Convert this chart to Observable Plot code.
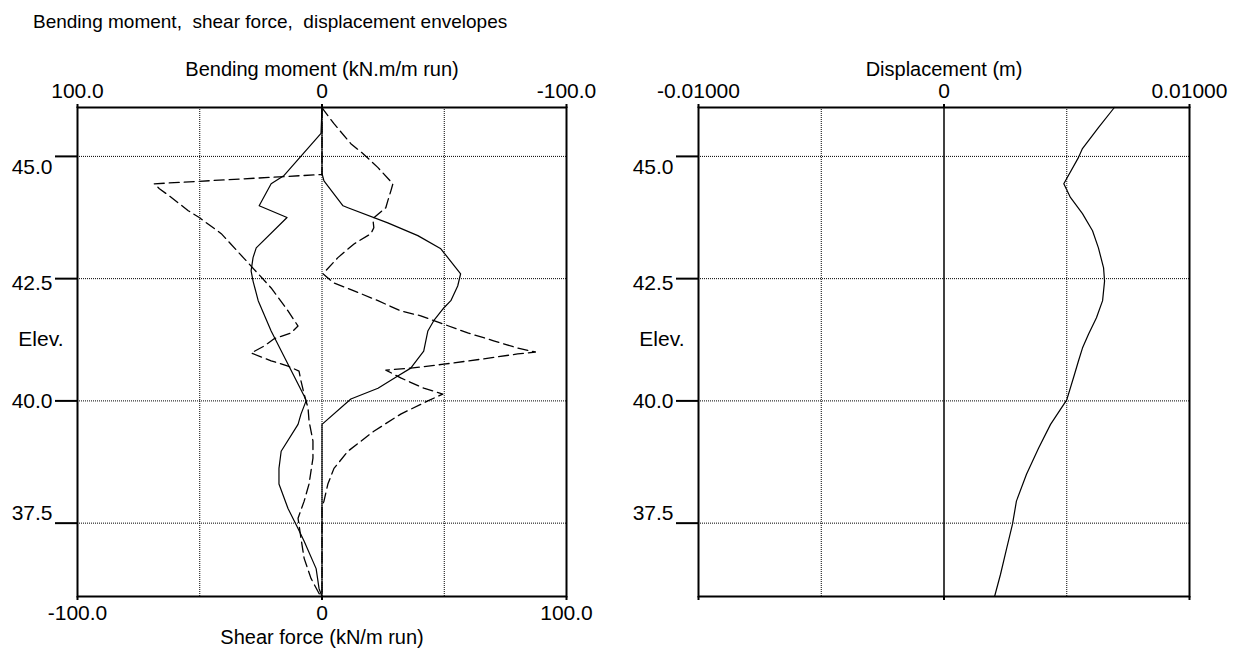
<!DOCTYPE html>
<html><head><meta charset="utf-8">
<script src="https://cdn.jsdelivr.net/npm/d3@7"></script>
<script src="https://cdn.jsdelivr.net/npm/@observablehq/plot@0.6"></script>
<style>
body{margin:0;background:#fff;}
#wrap{position:relative;width:1243px;height:655px;font-family:"Liberation Sans",Arial,sans-serif;color:#000;background:#fff;}
#title{position:absolute;left:33px;top:10px;font-size:19px;line-height:24px;white-space:pre;z-index:2;}
.panel{position:absolute;top:0;z-index:1;}
</style></head><body>
<div id="wrap"><div id="title">Bending moment,  shear force,  displacement envelopes</div></div>
<script>
// ---- data ----
const elevTicks = [45, 42.5, 40, 37.5];
const momentTicks = [100, 0, -100];
const shearTicks = [-100, 0, 100];
const dispTicks = [-0.01, 0, 0.01];

// bending moment envelope (solid), positive side
const bmPosElev = [46.0, 45.47, 44.61, 44.44, 43.99, 43.75, 43.13, 42.93, 42.66, 42.45, 42.05, 41.43, 40.75, 40.10, 40.00, 39.73, 39.52, 38.97, 38.62, 38.30, 37.80, 37.39, 37.13, 36.57, 36.16, 36.0];
const bmPos = [0, 0.4, 15.5, 20.8, 25.7, 14.3, 26.9, 28.2, 29.0, 28.2, 26.1, 20.8, 13.9, 7.3, 6.5, 8.6, 9.8, 16.7, 17.6, 17.6, 13.9, 9.8, 7.3, 2.4, 1.2, 0];
// bending moment envelope (solid), negative side
const bmNegElev = [46.0, 44.65, 44.50, 43.99, 43.95, 43.64, 43.38, 43.11, 42.60, 42.35, 42.05, 41.90, 41.64, 41.43, 41.02, 40.67, 40.51, 40.26, 40.04, 39.52, 36.0];
const bmNeg = [0, 0, -0.8, -8.6, -10.6, -26.9, -39.2, -48.6, -56.7, -55.5, -52.7, -49.8, -45.7, -43.3, -41.6, -36.3, -31.0, -22.9, -11.8, 0, 0];
// shear force envelope (dashed), negative side
const sfNegElev = [46.0, 44.63, 44.44, 44.34, 44.16, 43.89, 43.75, 43.42, 42.91, 42.31, 41.84, 41.53, 41.39, 41.27, 41.12, 40.98, 40.82, 40.71, 40.61, 40.41, 40.14, 39.85, 39.59, 39.18, 38.83, 38.30, 37.95, 37.60, 37.19, 36.78, 36.37, 36.06, 36.0];
const sfNeg = [0, 0, -68.6, -66.5, -61.6, -54.7, -50.2, -41.2, -31.8, -20.8, -13.9, -9.8, -12.7, -19.6, -23.7, -29.0, -20.8, -13.9, -9.4, -8.6, -7.3, -5.7, -5.3, -3.7, -3.7, -5.3, -7.3, -9.8, -8.6, -7.3, -4.5, -1.2, 0];
// shear force envelope (dashed), positive side
const sfPosElev = [46.0, 45.94, 45.67, 45.26, 45.06, 44.77, 44.44, 44.30, 44.09, 43.95, 43.73, 43.54, 43.42, 43.21, 42.93, 42.60, 42.41, 42.25, 42.05, 41.84, 41.74, 41.59, 41.39, 41.23, 41.08, 41.00, 40.96, 40.86, 40.75, 40.67, 40.63, 40.47, 40.26, 40.14, 40.00, 39.73, 39.38, 38.97, 38.62, 38.30, 37.95, 37.85, 36.0];
const sfPos = [0, 0.8, 4.9, 11.8, 16.7, 22.9, 29.0, 28.2, 26.9, 26.1, 20.8, 21.2, 20.0, 13.1, 6.5, 0.4, 4.9, 13.1, 22.9, 32.2, 40.4, 48.6, 59.6, 70.2, 80.0, 87.3, 80.0, 66.1, 49.8, 36.3, 26.1, 32.2, 41.6, 49.4, 43.3, 32.2, 21.2, 10.6, 4.9, 2.4, 0.8, 0, 0];
// displacement
const dispElev = [46.0, 45.59, 45.16, 44.98, 44.44, 44.16, 43.83, 43.48, 43.13, 42.72, 42.45, 42.05, 41.70, 41.37, 41.08, 40.82, 40.55, 40.02, 39.52, 39.03, 38.50, 37.95, 37.48, 36.98, 36.45, 36.0];
const disp = [0.00694, 0.00629, 0.00564, 0.00548, 0.00488, 0.00515, 0.00564, 0.00605, 0.00629, 0.00650, 0.00654, 0.00646, 0.00621, 0.00589, 0.00564, 0.00548, 0.00532, 0.00500, 0.00434, 0.00385, 0.00336, 0.00295, 0.00279, 0.00255, 0.00230, 0.00206];

// ---- helpers ----
const FONT = 21;
const zip = (ys, xs) => ys.map((y, i) => ({elev: y, v: xs[i]}));
const fmt1 = d => d === 0 ? "0" : d.toFixed(1);
const fmt5 = d => d === 0 ? "0" : d.toFixed(5);
const labelDy = [11, 5, 0, -10];
const T = {fontSize: FONT, lineAnchor: "middle", fill: "black"};
const TT = {fontSize: 20, lineAnchor: "middle", fill: "black"};

function yAxisMarks() {
  const m = [
    Plot.axisY({ticks: elevTicks, tickSize: 22, tickFormat: () => "", strokeWidth: 2, label: null}),
    Plot.text(["Elev."], {...T, frameAnchor: "left", dx: -14, dy: -13, textAnchor: "end"})
  ];
  elevTicks.forEach((t, i) => {
    m.push(Plot.text([t], {...T, y: d => d, text: d => d.toFixed(1), frameAnchor: "left", dx: -25, dy: labelDy[i], textAnchor: "end"}));
  });
  return m;
}

function makePanel(opts) {
  return Plot.plot({
    width: opts.width, height: 655,
    marginLeft: opts.ml, marginRight: opts.mr, marginTop: 107, marginBottom: 59,
    style: {fontFamily: '"Liberation Sans", Arial, sans-serif', fontSize: FONT + "px", background: "transparent", color: "black"},
    x: {domain: opts.xdom},
    y: {domain: [36, 46]},
    marks: opts.marks
  });
}

const wrap = document.getElementById("wrap");

// ---- left panel: bending moment & shear force ----
const left = makePanel({
  width: 620, ml: 77, mr: 54, xdom: [-100, 100],
  marks: [
    Plot.ruleX([-50, 0, 50], {stroke: "black", strokeDasharray: "1,1"}),
    Plot.ruleY(elevTicks, {stroke: "black", strokeDasharray: "1,1"}),
    Plot.line(zip(bmPosElev, bmPos), {x: d => -d.v, y: "elev", stroke: "black", strokeWidth: 1.2}),
    Plot.line(zip(bmNegElev, bmNeg), {x: d => -d.v, y: "elev", stroke: "black", strokeWidth: 1.2}),
    Plot.line(zip(sfNegElev, sfNeg), {x: "v", y: "elev", stroke: "black", strokeWidth: 1.3, strokeDasharray: "10,5"}),
    Plot.line(zip(sfPosElev, sfPos), {x: "v", y: "elev", stroke: "black", strokeWidth: 1.3, strokeDasharray: "10,5"}),
    Plot.frame({stroke: "black", strokeWidth: 2}),
    Plot.axisX({anchor: "top", ticks: shearTicks, tickSize: 4, tickFormat: () => "", strokeWidth: 2, label: null}),
    Plot.axisX({anchor: "bottom", ticks: shearTicks, tickSize: 4, tickFormat: () => "", strokeWidth: 2, label: null}),
    Plot.text(momentTicks, {...T, x: d => -d, text: fmt1, frameAnchor: "top", dy: -16}),
    Plot.text(shearTicks, {...T, x: d => d, text: fmt1, frameAnchor: "bottom", dy: 17}),
    Plot.text(["Bending moment (kN.m/m run)"], {...TT, frameAnchor: "top", dy: -38}),
    Plot.text(["Shear force (kN/m run)"], {...TT, frameAnchor: "bottom", dy: 41}),
    ...yAxisMarks()
  ]
});
left.classList.add("panel");
left.style.left = "0px";
wrap.appendChild(left);

// ---- right panel: displacement ----
const right = makePanel({
  width: 623, ml: 78, mr: 54, xdom: [-0.01, 0.01],
  marks: [
    Plot.ruleX([-0.005, 0.005], {stroke: "black", strokeDasharray: "1,1"}),
    Plot.ruleY(elevTicks, {stroke: "black", strokeDasharray: "1,1"}),
    Plot.ruleX([0], {stroke: "black", strokeWidth: 1.5}),
    Plot.line(zip(dispElev, disp), {x: "v", y: "elev", stroke: "black", strokeWidth: 1.2}),
    Plot.frame({stroke: "black", strokeWidth: 2}),
    Plot.axisX({anchor: "top", ticks: dispTicks, tickSize: 4, tickFormat: () => "", strokeWidth: 2, label: null}),
    Plot.axisX({anchor: "bottom", ticks: dispTicks, tickSize: 4, tickFormat: () => "", strokeWidth: 2, label: null}),
    Plot.text(dispTicks, {...T, x: d => d, text: fmt5, frameAnchor: "top", dy: -16}),
    Plot.text(["Displacement (m)"], {...TT, frameAnchor: "top", dy: -38}),
    ...yAxisMarks()
  ]
});
right.classList.add("panel");
right.style.left = "620px";
wrap.appendChild(right);
</script>
</body></html>
